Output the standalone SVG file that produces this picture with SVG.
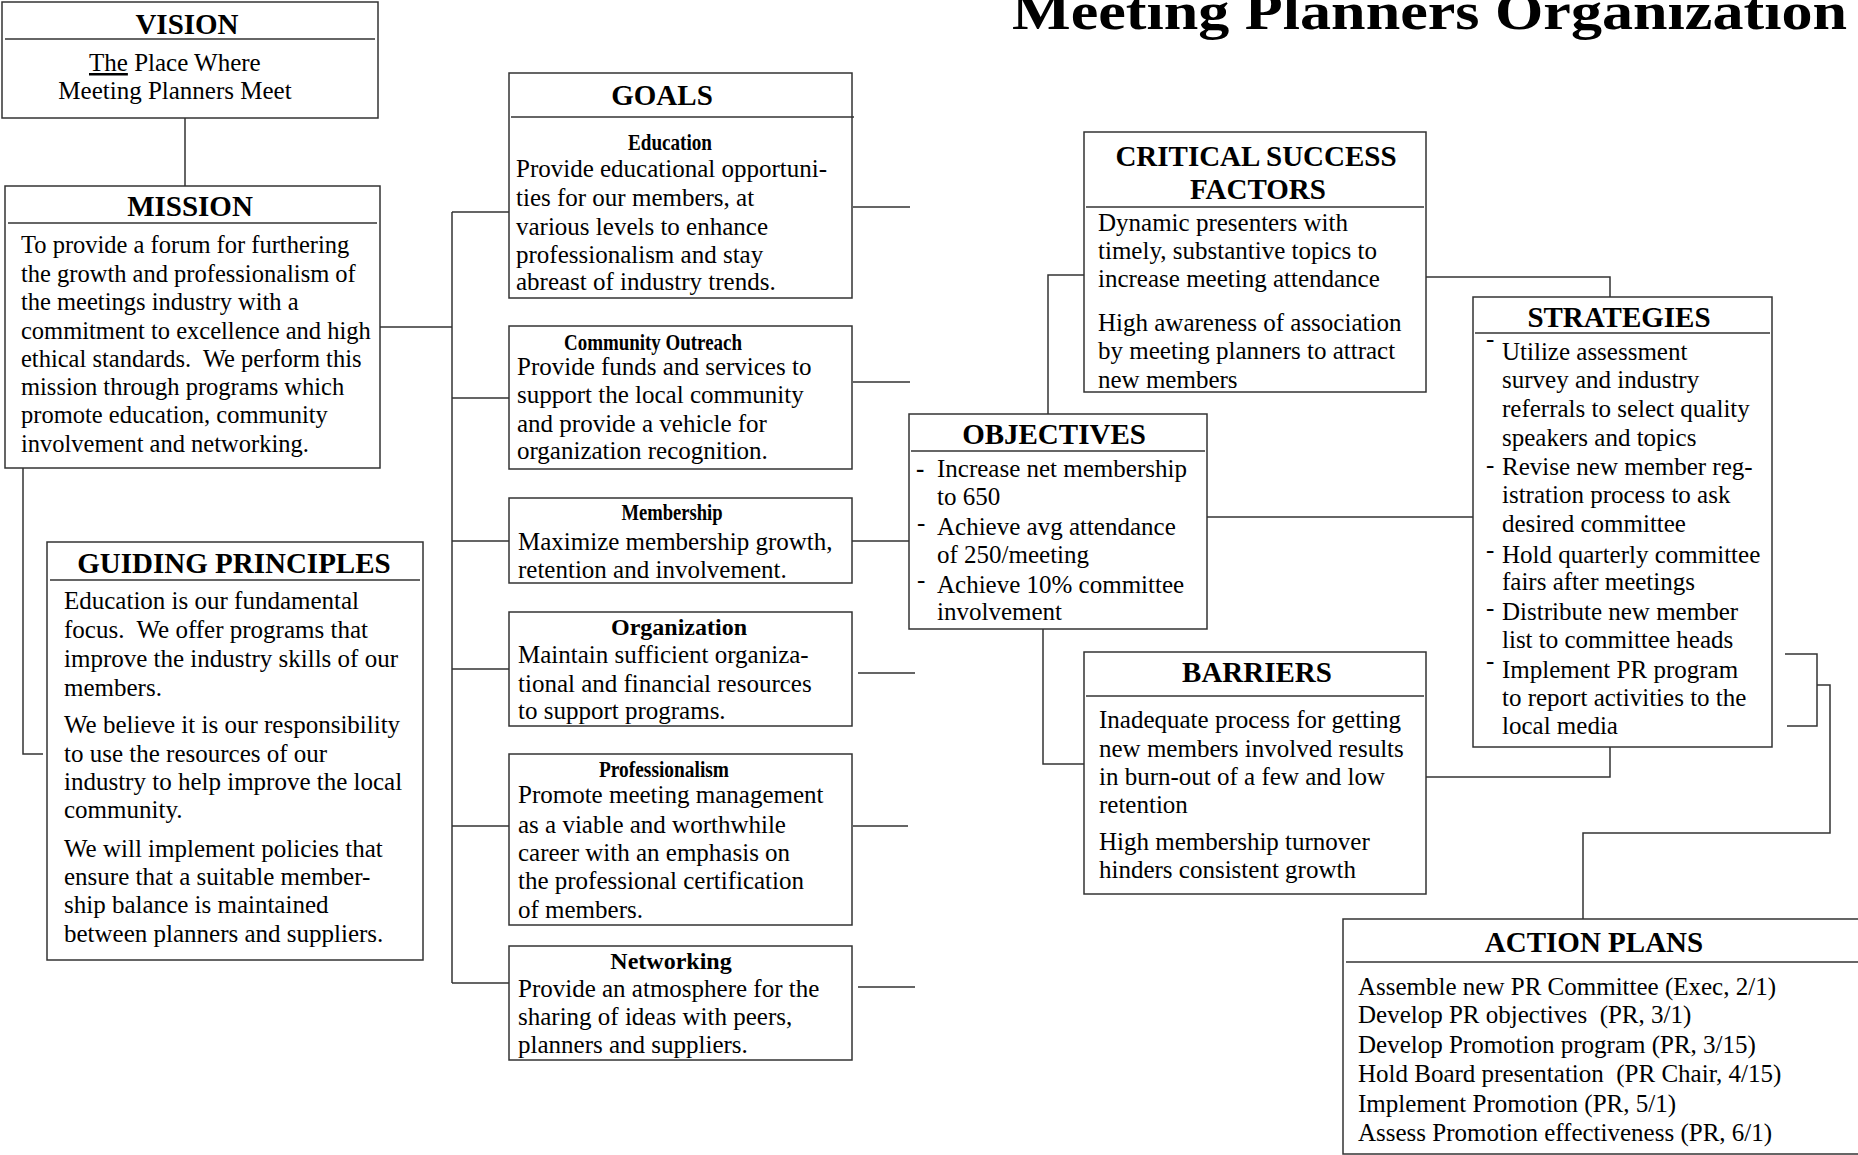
<svg xmlns="http://www.w3.org/2000/svg" width="1858" height="1155" viewBox="0 0 1858 1155">
<style>
.bg{fill:#fff}
.box{fill:#fff;stroke:#333;stroke-width:1.5}
.hl{stroke:#333;stroke-width:1.5}
.c{fill:none;stroke:#333;stroke-width:1.5}
.h{font-family:"Liberation Serif","Times New Roman",serif;font-weight:bold;font-size:29px;text-anchor:middle;fill:#000}
.s{font-family:"Liberation Serif","Times New Roman",serif;font-weight:bold;font-size:24px;text-anchor:middle;fill:#000}
.t{font-family:"Liberation Serif","Times New Roman",serif;font-size:25px;fill:#000}
.m{font-size:24.5px}
.ti{font-family:"Liberation Serif","Times New Roman",serif;font-weight:bold;font-size:52px;fill:#000}
</style>
<rect class="bg" x="0" y="0" width="1858" height="1155"/>
<text class="ti" x="1012" y="29" textLength="835" lengthAdjust="spacingAndGlyphs">Meeting Planners Organization</text>

<g id="connectors">
<path class="c" d="M185,118 V186"/>
<path class="c" d="M380,327 H452"/>
<path class="c" d="M452,212 V983"/>
<path class="c" d="M452,212 H509 M452,398 H509 M452,541 H509 M452,669 H509 M452,826 H509 M452,983 H509"/>
<path class="c" d="M23,468 V754 H43"/>
<path class="c" d="M853,207 H910 M853,382 H910 M852,541 H909 M858,673 H915 M853,826 H908 M858,987 H915"/>
<path class="c" d="M1048,414 V275 H1084"/>
<path class="c" d="M1426,277 H1610 V297"/>
<path class="c" d="M1207,517 H1473"/>
<path class="c" d="M1043,629 V764 H1084"/>
<path class="c" d="M1426,777 H1610 V747"/>
<path class="c" d="M1785,654 H1817 V726 H1787"/>
<path class="c" d="M1817,685 H1830 V833 H1583 V919"/>
</g>

<g id="vision">
<rect class="box" x="2" y="2" width="376" height="116"/>
<line class="hl" x1="5" y1="39" x2="375" y2="39"/>
<text class="h" x="187" y="34">VISION</text>
<text class="t" x="89" y="71"><tspan text-decoration="underline">The</tspan> Place Where</text>
<text class="t" x="175" y="99" text-anchor="middle">Meeting Planners Meet</text>
</g>

<g id="mission">
<rect class="box" x="5" y="186" width="375" height="282"/>
<line class="hl" x1="8" y1="223" x2="377" y2="223"/>
<text class="h" x="190" y="216">MISSION</text>
<text class="t m" x="21" y="253">To provide a forum for furthering</text>
<text class="t m" x="21" y="282">the growth and professionalism of</text>
<text class="t m" x="21" y="310">the meetings industry with a</text>
<text class="t m" x="21" y="339">commitment to excellence and high</text>
<text class="t m" x="21" y="367">ethical standards.&#160; We perform this</text>
<text class="t m" x="21" y="395">mission through programs which</text>
<text class="t m" x="21" y="423">promote education, community</text>
<text class="t m" x="21" y="452">involvement and networking.</text>
</g>

<g id="guiding-principles">
<rect class="box" x="47" y="542" width="376" height="418"/>
<line class="hl" x1="50" y1="580" x2="420" y2="580"/>
<text class="h" x="234" y="573">GUIDING PRINCIPLES</text>
<text class="t" x="64" y="609">Education is our fundamental</text>
<text class="t" x="64" y="638">focus.&#160; We offer programs that</text>
<text class="t" x="64" y="667">improve the industry skills of our</text>
<text class="t" x="64" y="696">members.</text>
<text class="t" x="64" y="733">We believe it is our responsibility</text>
<text class="t" x="64" y="762">to use the resources of our</text>
<text class="t" x="64" y="790">industry to help improve the local</text>
<text class="t" x="64" y="818">community.</text>
<text class="t" x="64" y="857">We will implement policies that</text>
<text class="t" x="64" y="885">ensure that a suitable member-</text>
<text class="t" x="64" y="913">ship balance is maintained</text>
<text class="t" x="64" y="942">between planners and suppliers.</text>
</g>

<g id="goals-education">
<rect class="box" x="509" y="73" width="343" height="225"/>
<line class="hl" x1="511" y1="117" x2="854" y2="117"/>
<text class="h" x="662" y="105">GOALS</text>
<text class="s" x="670" y="150" textLength="84" lengthAdjust="spacingAndGlyphs">Education</text>
<text class="t" x="516" y="177">Provide educational opportuni-</text>
<text class="t" x="516" y="206">ties for our members, at</text>
<text class="t" x="516" y="235">various levels to enhance</text>
<text class="t" x="516" y="263">professionalism and stay</text>
<text class="t" x="516" y="290">abreast of industry trends.</text>
</g>

<g id="goal-community">
<rect class="box" x="509" y="326" width="343" height="143"/>
<text class="s" x="653" y="350" textLength="178" lengthAdjust="spacingAndGlyphs">Community Outreach</text>
<text class="t" x="517" y="375">Provide funds and services to</text>
<text class="t" x="517" y="403">support the local community</text>
<text class="t" x="517" y="432">and provide a vehicle for</text>
<text class="t" x="517" y="459">organization recognition.</text>
</g>

<g id="goal-membership">
<rect class="box" x="509" y="498" width="343" height="85"/>
<text class="s" x="672" y="520" textLength="101" lengthAdjust="spacingAndGlyphs">Membership</text>
<text class="t" x="518" y="550">Maximize membership growth,</text>
<text class="t" x="518" y="578">retention and involvement.</text>
</g>

<g id="goal-organization">
<rect class="box" x="509" y="612" width="343" height="114"/>
<text class="s" x="679" y="635">Organization</text>
<text class="t" x="518" y="663">Maintain sufficient organiza-</text>
<text class="t" x="518" y="692">tional and financial resources</text>
<text class="t" x="518" y="719">to support programs.</text>
</g>

<g id="goal-professionalism">
<rect class="box" x="509" y="754" width="343" height="171"/>
<text class="s" x="664" y="777" textLength="130" lengthAdjust="spacingAndGlyphs">Professionalism</text>
<text class="t" x="518" y="803">Promote meeting management</text>
<text class="t" x="518" y="833">as a viable and worthwhile</text>
<text class="t" x="518" y="861">career with an emphasis on</text>
<text class="t" x="518" y="889">the professional certification</text>
<text class="t" x="518" y="918">of members.</text>
</g>

<g id="goal-networking">
<rect class="box" x="509" y="946" width="343" height="114"/>
<text class="s" x="671" y="969">Networking</text>
<text class="t" x="518" y="997">Provide an atmosphere for the</text>
<text class="t" x="518" y="1025">sharing of ideas with peers,</text>
<text class="t" x="518" y="1053">planners and suppliers.</text>
</g>

<g id="critical-success-factors">
<rect class="box" x="1084" y="132" width="342" height="260"/>
<line class="hl" x1="1086" y1="207" x2="1424" y2="207"/>
<text class="h" x="1256" y="166">CRITICAL SUCCESS</text>
<text class="h" x="1258" y="199">FACTORS</text>
<text class="t" x="1098" y="231">Dynamic presenters with</text>
<text class="t" x="1098" y="259">timely, substantive topics to</text>
<text class="t" x="1098" y="287">increase meeting attendance</text>
<text class="t" x="1098" y="331">High awareness of association</text>
<text class="t" x="1098" y="359">by meeting planners to attract</text>
<text class="t" x="1098" y="388">new members</text>
</g>

<g id="objectives">
<rect class="box" x="909" y="414" width="298" height="215"/>
<line class="hl" x1="911" y1="451" x2="1205" y2="451"/>
<text class="h" x="1054" y="444">OBJECTIVES</text>
<text class="t" x="916" y="477" font-weight="bold">-</text>
<text class="t" x="917" y="531">-</text>
<text class="t" x="917" y="588">-</text>
<text class="t" x="937" y="477">Increase net membership</text>
<text class="t" x="937" y="505">to 650</text>
<text class="t" x="937" y="535">Achieve avg attendance</text>
<text class="t" x="937" y="563">of 250/meeting</text>
<text class="t" x="937" y="593">Achieve 10% committee</text>
<text class="t" x="937" y="620">involvement</text>
</g>

<g id="barriers">
<rect class="box" x="1084" y="652" width="342" height="242"/>
<line class="hl" x1="1086" y1="696" x2="1424" y2="696"/>
<text class="h" x="1257" y="682">BARRIERS</text>
<text class="t" x="1099" y="728">Inadequate process for getting</text>
<text class="t" x="1099" y="757">new members involved results</text>
<text class="t" x="1099" y="785">in burn-out of a few and low</text>
<text class="t" x="1099" y="813">retention</text>
<text class="t" x="1099" y="850">High membership turnover</text>
<text class="t" x="1099" y="878">hinders consistent growth</text>
</g>

<g id="strategies">
<rect class="box" x="1473" y="297" width="299" height="450"/>
<line class="hl" x1="1475" y1="333" x2="1770" y2="333"/>
<text class="h" x="1619" y="327">STRATEGIES</text>
<text class="t" x="1486" y="347">-</text>
<text class="t" x="1486" y="473">-</text>
<text class="t" x="1486" y="558">-</text>
<text class="t" x="1486" y="616">-</text>
<text class="t" x="1486" y="669">-</text>
<text class="t" x="1502" y="360">Utilize assessment</text>
<text class="t" x="1502" y="388">survey and industry</text>
<text class="t" x="1502" y="417">referrals to select quality</text>
<text class="t" x="1502" y="446">speakers and topics</text>
<text class="t" x="1502" y="475">Revise new member reg-</text>
<text class="t" x="1502" y="503">istration process to ask</text>
<text class="t" x="1502" y="532">desired committee</text>
<text class="t" x="1502" y="563">Hold quarterly committee</text>
<text class="t" x="1502" y="590">fairs after meetings</text>
<text class="t" x="1502" y="620">Distribute new member</text>
<text class="t" x="1502" y="648">list to committee heads</text>
<text class="t" x="1502" y="678">Implement PR program</text>
<text class="t" x="1502" y="706">to report activities to the</text>
<text class="t" x="1502" y="734">local media</text>
</g>

<g id="action-plans">
<rect class="box" x="1343" y="919" width="600" height="235"/>
<line class="hl" x1="1346" y1="962" x2="1858" y2="962"/>
<text class="h" x="1594" y="952">ACTION PLANS</text>
<text class="t" x="1358" y="995">Assemble new PR Committee (Exec, 2/1)</text>
<text class="t" x="1358" y="1023">Develop PR objectives&#160; (PR, 3/1)</text>
<text class="t" x="1358" y="1053">Develop Promotion program (PR, 3/15)</text>
<text class="t" x="1358" y="1082">Hold Board presentation&#160; (PR Chair, 4/15)</text>
<text class="t" x="1358" y="1112">Implement Promotion (PR, 5/1)</text>
<text class="t" x="1358" y="1141">Assess Promotion effectiveness (PR, 6/1)</text>
</g>
</svg>
